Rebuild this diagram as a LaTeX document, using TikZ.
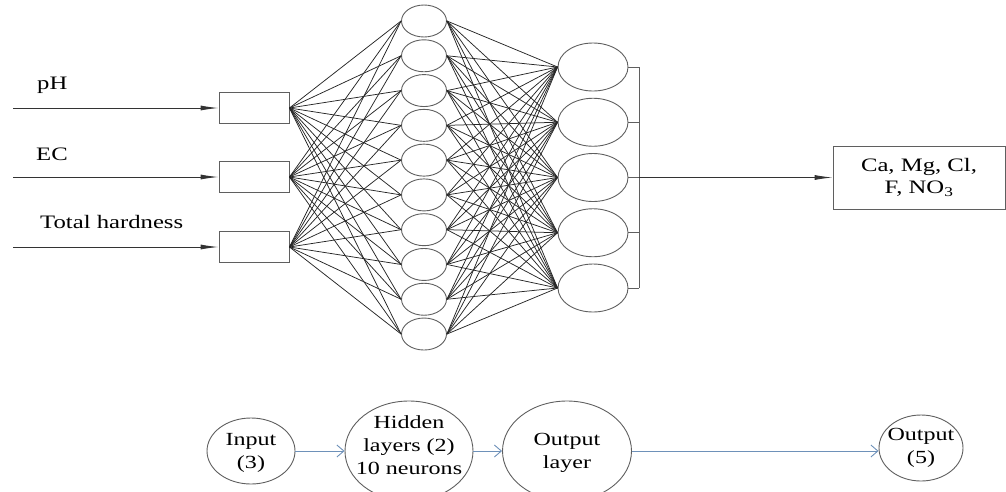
\documentclass[tikz,border=0pt]{standalone}
\usepackage{fontspec}
\setmainfont{Liberation Serif}[FakeStretch=1.3]
\usetikzlibrary{shapes.geometric,arrows.meta}
\definecolor{flowc}{RGB}{110,145,185}
\definecolor{edgec}{RGB}{95,95,95}
\begin{document}
\begin{tikzpicture}[x=1pt,y=-1pt,
  inbox/.style={draw=edgec,line width=0.9pt,minimum width=70pt,minimum height=31pt,inner sep=0pt},
  hid/.style={ellipse,draw=edgec,line width=0.9pt,minimum width=45pt,minimum height=32pt,inner sep=0pt},
  outn/.style={ellipse,draw=edgec,line width=0.9pt,minimum width=70pt,minimum height=48pt,inner sep=0pt},
  wire/.style={black!85,line width=0.75pt},
  lbl/.style={font=\fontsize{19}{22}\selectfont,anchor=west,inner sep=0pt},
  feed/.style={draw=black!80,line width=0.9pt,-{Latex[length=18pt,width=5pt]}},
  flow/.style={ellipse,draw=edgec,line width=0.9pt,inner sep=0pt},
  flowtxt/.style={font=\fontsize{18.5}{23}\selectfont,align=center},
  farrow/.style={draw=flowc,line width=0.9pt,-{Straight Barb[length=7pt,width=12pt]}}
]
\useasboundingbox (0,0) rectangle (1006,491);

% input boxes
\node[inbox] (i1) at (254,108) {};
\node[inbox] (i2) at (254,177) {};
\node[inbox] (i3) at (254,247) {};

% input feeds and labels
\coordinate (s1) at (13,108);
\coordinate (s2) at (13,177);
\coordinate (s3) at (13,247);
\draw[feed] (s1) -- (i1.west);
\draw[feed] (s2) -- (i2.west);
\draw[feed] (s3) -- (i3.west);
\node[lbl] (l1) at (37,85) {pH};
\node[lbl] (l2) at (36,154) {EC};
\node[lbl] (l3) at (40,222) {Total hardness};

% hidden neurons
\foreach \j in {1,...,10}
  \node[hid] (h\j) at (424,{21+34.78*(\j-1)}) {};

% output neurons
\foreach \k in {1,...,5}
  \node[outn] (o\k) at (593,{67+55.25*(\k-1)}) {};

% wires
\foreach \i in {1,2,3}
  \foreach \j in {1,...,10}
    \draw[wire] (i\i.east) -- (h\j.west);
\foreach \j in {1,...,10}
  \foreach \k in {1,...,5}
    \draw[wire] (h\j.east) -- (o\k.west);

% bracket
\coordinate (bx) at (639,0);
\foreach \k in {1,...,5}
  \draw[edgec,line width=0.9pt] (o\k.east) -- (o\k.east -| bx);
\draw[edgec,line width=0.9pt] (o1.east -| bx) -- (o5.east -| bx);

% result box
\node[draw=edgec,line width=0.9pt,minimum width=172pt,minimum height=63pt,inner sep=0pt,
      align=center,font=\fontsize{19}{22}\selectfont] (res) at (919,177.5)
      {Ca, Mg, Cl,\\F, NO\textsubscript{3}};
\draw[feed] (o3.east -| bx) -- (res.west);

% bottom flow
\node[flow,minimum width=88pt,minimum height=66pt,
      label={[flowtxt,yshift=-2pt]center:Input\\(3)}] (bin) at (251,451) {};
\node[flow,minimum width=128pt,minimum height=100pt,
      label={[flowtxt,yshift=6pt]center:Hidden\\layers (2)\\10 neurons}] (bhid) at (409,451) {};
\node[flow,minimum width=129pt,minimum height=100pt,
      label={[flowtxt,yshift=-2pt]center:Output\\layer}] (bout) at (567,451) {};
\node[flow,minimum width=84pt,minimum height=66pt,
      label={[flowtxt]center:Output\\(5)}] (bres) at (921,448) {};

\draw[farrow] (bin.east) -- (bin.east -| bhid.west);
\draw[farrow] (bhid.east) -- (bhid.east -| bout.west);
\draw[farrow] (bout.east) -- (bout.east -| bres.west);
\end{tikzpicture}
\end{document}
